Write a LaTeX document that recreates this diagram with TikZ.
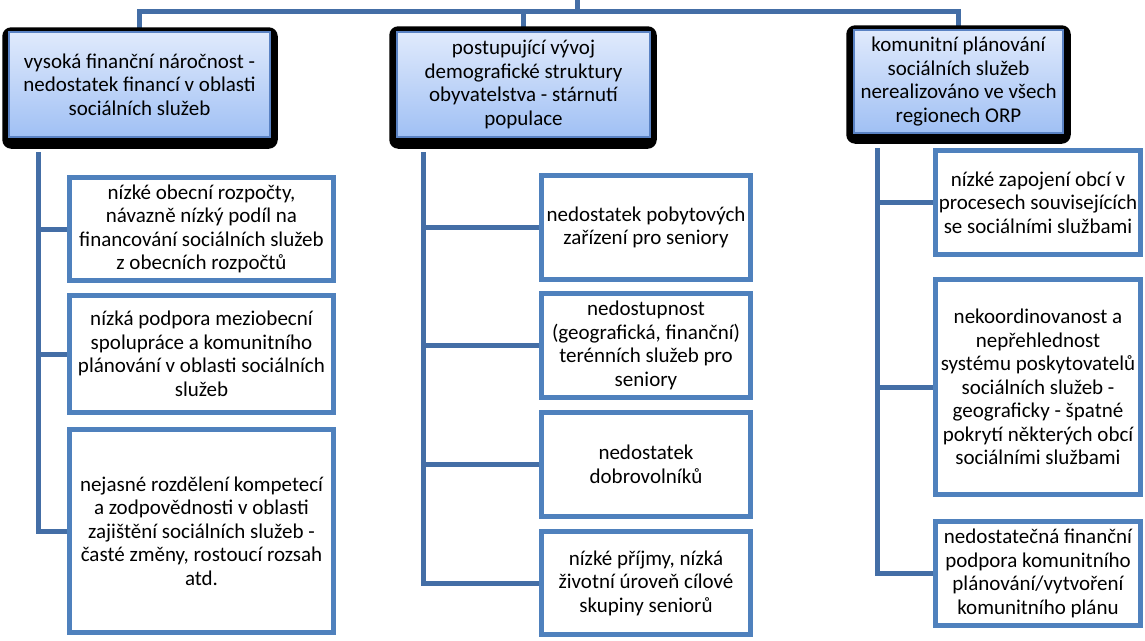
\documentclass[tikz,border=0pt]{standalone}
\usepackage{fontspec}
\setmainfont{Carlito}
\usetikzlibrary{backgrounds}

\definecolor{linkblue}{RGB}{68,110,166}
\definecolor{boxblue}{RGB}{79,129,189}
\definecolor{headtop}{RGB}{224,234,252}
\definecolor{headbot}{RGB}{160,192,244}
\definecolor{headline}{RGB}{90,130,195}

\tikzset{
    txt/.style={font=\fontsize{21}{23.5}\selectfont, align=center, inner sep=0pt},
    head/.style={txt, rectangle, draw=headline, line width=1.5pt,
        top color=headtop, bottom color=headbot},
    cause/.style={txt, rectangle, draw=boxblue, line width=5pt, fill=white},
    link/.style={draw=linkblue, line width=5pt},
    headshade/.style={fill=black, rounded corners=9pt}
}

\begin{document}
\begin{tikzpicture}[x=1pt, y=-1pt]
    \useasboundingbox (0,0) rectangle (1145,640);
    \def \colone{264pt}
    \def \coltwo{209pt}
    \def \colthree{205pt}

    % Draw the three header boxes
    \node[head, minimum width=261pt, minimum height=105pt] (h1) at (139.5,84.5)
        {vysoká finanční náročnost -\\nedostatek financí v oblasti\\sociálních služeb};
    \node[head, minimum width=253pt, minimum height=105pt] (h2) at (523.5,84.5)
        {postupující vývoj\\demografické struktury\\obyvatelstva - stárnutí\\populace};
    \node[head, minimum width=209pt, minimum height=103pt] (h3) at (958.5,81.5)
        {komunitní plánování\\sociálních služeb\\nerealizováno ve všech\\regionech ORP};

    % Draw the first column
    \node[cause, minimum width=\colone, minimum height=103pt] (a1) at (201.5,229)
        {nízké obecní rozpočty,\\návazně nízký podíl na\\financování sociálních služeb\\z obecních rozpočtů};
    \node[cause, minimum width=\colone, minimum height=117pt] (a2) at (201.5,354)
        {nízká podpora meziobecní\\spolupráce a komunitního\\plánování v oblasti sociálních\\služeb};
    \node[cause, minimum width=\colone, minimum height=203pt] (a3) at (201.5,531)
        {nejasné rozdělení kompetecí\\a zodpovědnosti v oblasti\\zajištění sociálních služeb -\\časté změny, rostoucí rozsah\\atd.};

    % Draw the middle column
    \node[cause, minimum width=\coltwo, minimum height=104pt] (b1) at (646,227.5)
        {nedostatek pobytových\\zařízení pro seniory};
    \node[cause, minimum width=\coltwo, minimum height=104pt] (b2) at (646,345.5)
        {nedostupnost\\(geografická, finanční)\\terénních služeb pro\\seniory};
    \node[cause, minimum width=\coltwo, minimum height=104pt] (b3) at (646,464.5)
        {nedostatek\\dobrovolníků};
    \node[cause, minimum width=\coltwo, minimum height=103pt] (b4) at (646,583)
        {nízké příjmy, nízká\\životní úroveň cílové\\skupiny seniorů};

    % Draw the third column
    \node[cause, minimum width=\colthree, minimum height=104pt] (c1) at (1038,202.5)
        {nízké zapojení obcí v\\procesech souvisejících\\se sociálními službami};
    \node[cause, minimum width=\colthree, minimum height=215pt] (c2) at (1038,387)
        {nekoordinovanost a\\nepřehlednost\\systému poskytovatelů\\sociálních služeb -\\geograficky - špatné\\pokrytí některých obcí\\sociálními službami};
    \node[cause, minimum width=\colthree, minimum height=104pt] (c3) at (1038,573.5)
        {nedostatečná finanční\\podpora komunitního\\plánování/vytvoření\\komunitního plánu};

    \begin{scope}[on background layer]
        % Connectors from the top
        \coordinate (root) at (577,0);
        \coordinate (fork) at (577,11);
        \draw[link] (root) -- (fork) -| (h1.north);
        \draw[link] (fork) -| (h2.north);
        \draw[link] (fork) -| (h3.north);

        % Black frames behind the headers
        \fill[headshade] ([xshift=-6pt,yshift=4pt]h1.north west) rectangle ([xshift=7pt,yshift=-11pt]h1.south east);
        \fill[headshade] ([xshift=-7pt,yshift=5pt]h2.north west) rectangle ([xshift=6pt,yshift=-11pt]h2.south east);
        \fill[headshade] ([xshift=-7pt,yshift=4pt]h3.north west) rectangle ([xshift=7pt,yshift=-10pt]h3.south east);

        % Branches down each column
        \coordinate (trunkA) at (38,152);
        \coordinate (trunkB) at (423,152);
        \coordinate (trunkC) at (877,148);
        \foreach \n in {a1,a2,a3} \draw[link] (trunkA) |- (\n.west);
        \foreach \n in {b1,b2,b3,b4} \draw[link] (trunkB) |- (\n.west);
        \foreach \n in {c1,c2,c3} \draw[link] (trunkC) |- (\n.west);
    \end{scope}
\end{tikzpicture}
\end{document}
